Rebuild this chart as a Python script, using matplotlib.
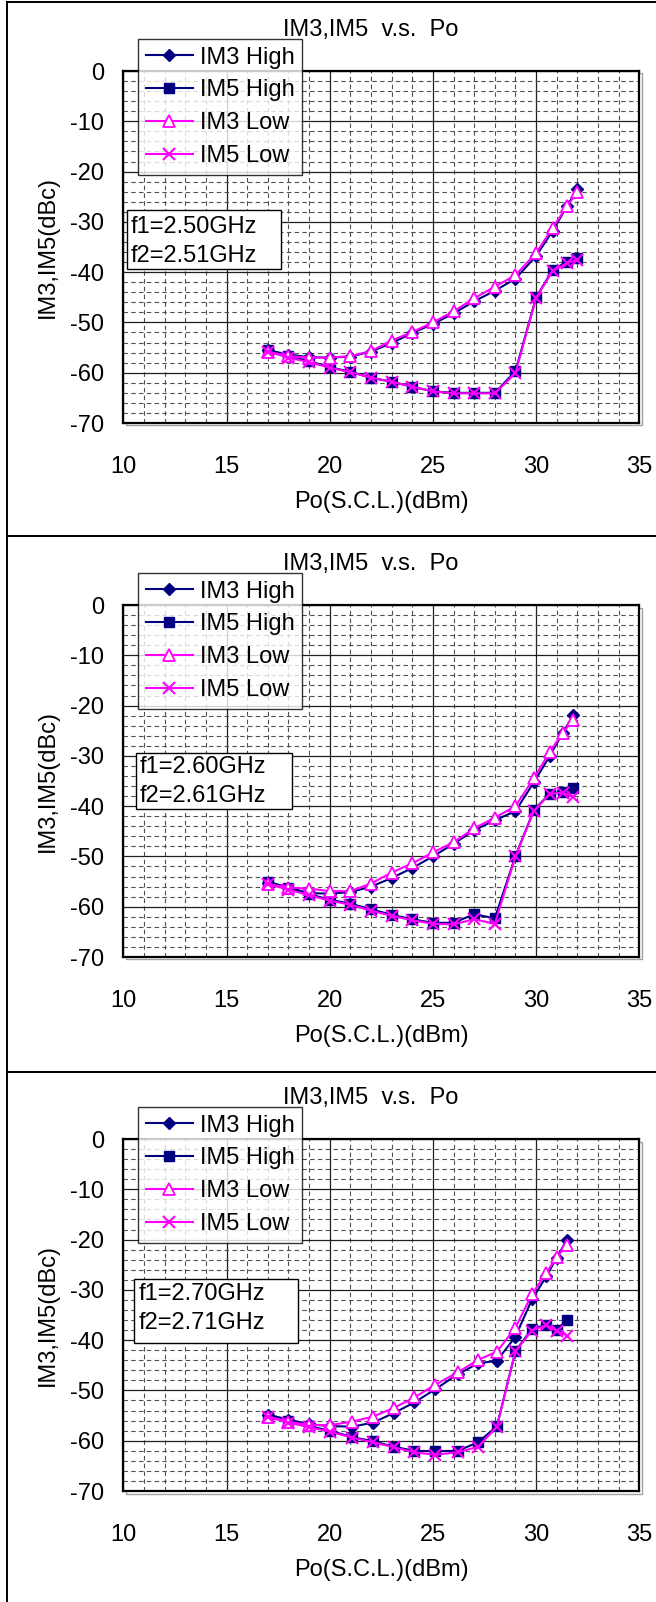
import matplotlib
matplotlib.use('Agg')
import matplotlib.pyplot as plt
from matplotlib.lines import Line2D
from matplotlib.patches import Rectangle
from matplotlib.ticker import MultipleLocator

plt.rcParams['font.family'] = ['Liberation Sans', 'DejaVu Sans']
plt.rcParams['axes.unicode_minus'] = False

# ------------------------------------------------
# data
# ------------------------------------------------
freq_labels = [('f1=2.50GHz', 'f2=2.51GHz'),
               ('f1=2.60GHz', 'f2=2.61GHz'),
               ('f1=2.70GHz', 'f2=2.71GHz')]

po_1 = [17, 18, 19, 20, 21, 22, 23, 24, 25, 26, 27, 28, 29, 30, 30.8, 31.5, 32]
im3_high_1 = [-55.5, -56.4, -56.9, -57.0, -56.8, -55.8, -54.1, -52.1, -50.3, -48.2,
              -45.8, -43.7, -41.3, -36.8, -31.8, -26.9, -23.4]
im5_high_1 = [-55.5, -56.7, -57.7, -58.9, -59.8, -61.0, -61.8, -62.8, -63.7, -64.0,
              -64.0, -64.0, -59.7, -45.0, -39.6, -37.9, -37.1]
im3_low_1 = [-55.8, -56.7, -57.0, -57.0, -56.7, -55.7, -53.6, -51.9, -50.0, -47.8,
             -45.2, -42.9, -40.6, -36.2, -31.2, -26.9, -24.0]
im5_low_1 = [-55.8, -57.0, -57.9, -59.0, -59.9, -61.0, -61.8, -62.8, -63.7, -64.1,
             -64.1, -64.1, -60.1, -45.1, -39.8, -38.2, -37.5]

po_2 = [17, 18, 19, 20, 21, 22, 23, 24, 25, 26, 27, 28, 29, 29.9, 30.65, 31.3, 31.8]
im3_high_2 = [-55.2, -56.2, -57.3, -57.4, -57.1, -56.0, -54.3, -52.3, -50.0, -47.5,
              -44.8, -42.8, -41.0, -35.2, -30.1, -25.4, -21.9]
im5_high_2 = [-55.0, -56.2, -57.5, -58.6, -59.4, -60.5, -61.6, -62.5, -63.2, -63.2,
              -61.5, -62.3, -49.9, -40.7, -37.6, -37.1, -36.4]
im3_low_2 = [-55.5, -56.2, -56.4, -56.9, -56.9, -55.4, -53.2, -51.4, -49.2, -47.2,
             -44.4, -42.3, -40.0, -34.4, -29.3, -25.4, -22.8]
im5_low_2 = [-55.5, -56.6, -57.7, -58.8, -59.6, -60.8, -61.8, -62.7, -63.4, -63.5,
             -62.5, -63.4, -50.0, -40.9, -37.6, -37.3, -38.2]

po_3 = [17, 18, 19, 20, 21.1, 22.1, 23.1, 24.1, 25.1, 26.2, 27.2, 28.1, 29.0, 29.8,
        30.5, 31.0, 31.5]
im3_high_3 = [-54.8, -55.8, -56.7, -57.1, -57.2, -56.4, -54.5, -52.4, -49.8, -46.8,
              -44.6, -44.1, -39.3, -31.9, -27.3, -23.6, -20.0]
im5_high_3 = [-55.2, -56.0, -57.1, -58.0, -59.3, -60.1, -61.2, -62.0, -62.1, -62.0,
              -60.3, -57.1, -42.2, -37.7, -37.0, -37.9, -36.0]
im3_low_3 = [-55.2, -56.2, -56.9, -56.9, -56.2, -55.2, -53.5, -51.4, -48.9, -46.4,
             -43.9, -42.3, -37.5, -30.9, -26.6, -23.5, -21.0]
im5_low_3 = [-55.3, -56.4, -57.3, -58.2, -59.4, -60.3, -61.3, -62.3, -62.8, -62.3,
             -61.2, -57.2, -42.2, -38.1, -37.0, -38.2, -39.1]

panels = [
    (po_1, im3_high_1, im5_high_1, im3_low_1, im5_low_1),
    (po_2, im3_high_2, im5_high_2, im3_low_2, im5_low_2),
    (po_3, im3_high_3, im5_high_3, im3_low_3, im5_low_3),
]

# ------------------------------------------------
# layout (pixels)
# ------------------------------------------------
W, H = 656, 1602
fig = plt.figure(figsize=(W / 100, H / 100), dpi=100)

def fx(x):
    return x / W

def fy(y):
    return 1 - y / H

NAVY = '#000080'
PINK = '#FF00FF'
FS = 17

frame_tops = [2, 536, 1072]
plot_tops = [71, 605, 1139]
box_pos = [(127, 210, 281, 269, 131, 227, 256),
           (136, 753, 292, 809, 140, 767, 796),
           (134, 1279, 298, 1343, 139, 1294, 1323)]

# outer frames
fig.add_artist(Line2D([fx(7), fx(7)], [fy(2), fy(H)], color='black', lw=1.4))
for t in frame_tops:
    fig.add_artist(Line2D([fx(7), fx(W)], [fy(t), fy(t)], color='black', lw=1.4))

for i, (po, h3, h5, l3, l5) in enumerate(panels):
    top = plot_tops[i]
    ax = fig.add_axes([fx(123.3), fy(top + 352), 516 / W, 352 / H])

    # shadow of the plot frame
    fig.add_artist(Rectangle((fx(125.5), fy(top + 354.5)), 516 / W, 352 / H,
                             facecolor='none', edgecolor='#a0a0a0', lw=1, zorder=0))

    ax.plot(po, h3, color=NAVY, lw=1.5, marker='D', ms=6.5, mfc=NAVY, mec=NAVY,
            label='IM3 High', zorder=3)
    ax.plot(po, h5, color=NAVY, lw=1.5, marker='s', ms=7, mfc=NAVY, mec=NAVY,
            label='IM5 High', zorder=3)
    ax.plot(po, l3, color=PINK, lw=1.5, marker='^', ms=8.5, mfc='white', mec=PINK,
            mew=1.3, label='IM3 Low', zorder=4)
    ax.plot(po, l5, color=PINK, lw=1.5, marker='x', ms=8, mec=PINK, mew=1.5,
            label='IM5 Low', zorder=4)

    ax.set_xlim(10, 35)
    ax.set_ylim(-70, 0)
    ax.xaxis.set_major_locator(MultipleLocator(5))
    ax.yaxis.set_major_locator(MultipleLocator(10))
    ax.xaxis.set_minor_locator(MultipleLocator(1))
    ax.yaxis.set_minor_locator(MultipleLocator(2))
    ax.grid(which='major', color='#202020', lw=0.9, ls='-')
    ax.grid(which='minor', color='#505050', lw=0.8, ls=(0, (4, 3)))
    ax.set_axisbelow(True)
    ax.tick_params(which='both', length=0, labelsize=FS)
    ax.tick_params(axis='x', pad=24)
    ax.tick_params(axis='y', pad=14)
    for s in ax.spines.values():
        s.set_linewidth(1.6)
        s.set_color('black')

    ax.set_xlabel('Po(S.C.L.)(dBm)', fontsize=FS, labelpad=9)
    ax.set_ylabel('IM3,IM5(dBc)', fontsize=FS, labelpad=8)

    fig.text(fx(371), fy(top - 41), 'IM3,IM5  v.s.  Po', fontsize=FS,
             ha='center', va='center')

    leg = ax.legend(loc='upper left', bbox_to_anchor=(fx(138), fy(top - 32)),
                    bbox_transform=fig.transFigure, fontsize=FS, frameon=True,
                    fancybox=False, shadow=False, borderaxespad=0, borderpad=0.32,
                    labelspacing=0.46, handlelength=2.0, handletextpad=0.3)
    leg.get_frame().set_edgecolor('black')
    leg.get_frame().set_linewidth(1.0)
    leg.set_zorder(10)

    # frequency annotation box
    x0, y0, x1, y1, tx, t1, t2 = box_pos[i]
    fig.add_artist(Rectangle((fx(x0), fy(y1)), (x1 - x0) / W, (y1 - y0) / H,
                             facecolor='white', edgecolor='black', lw=1.0, zorder=5))
    f1, f2 = freq_labels[i]
    fig.text(fx(tx), fy(t1), f1, fontsize=FS, ha='left', va='center', zorder=6)
    fig.text(fx(tx), fy(t2), f2, fontsize=FS, ha='left', va='center', zorder=6)

fig.savefig('out.png', dpi=100)
